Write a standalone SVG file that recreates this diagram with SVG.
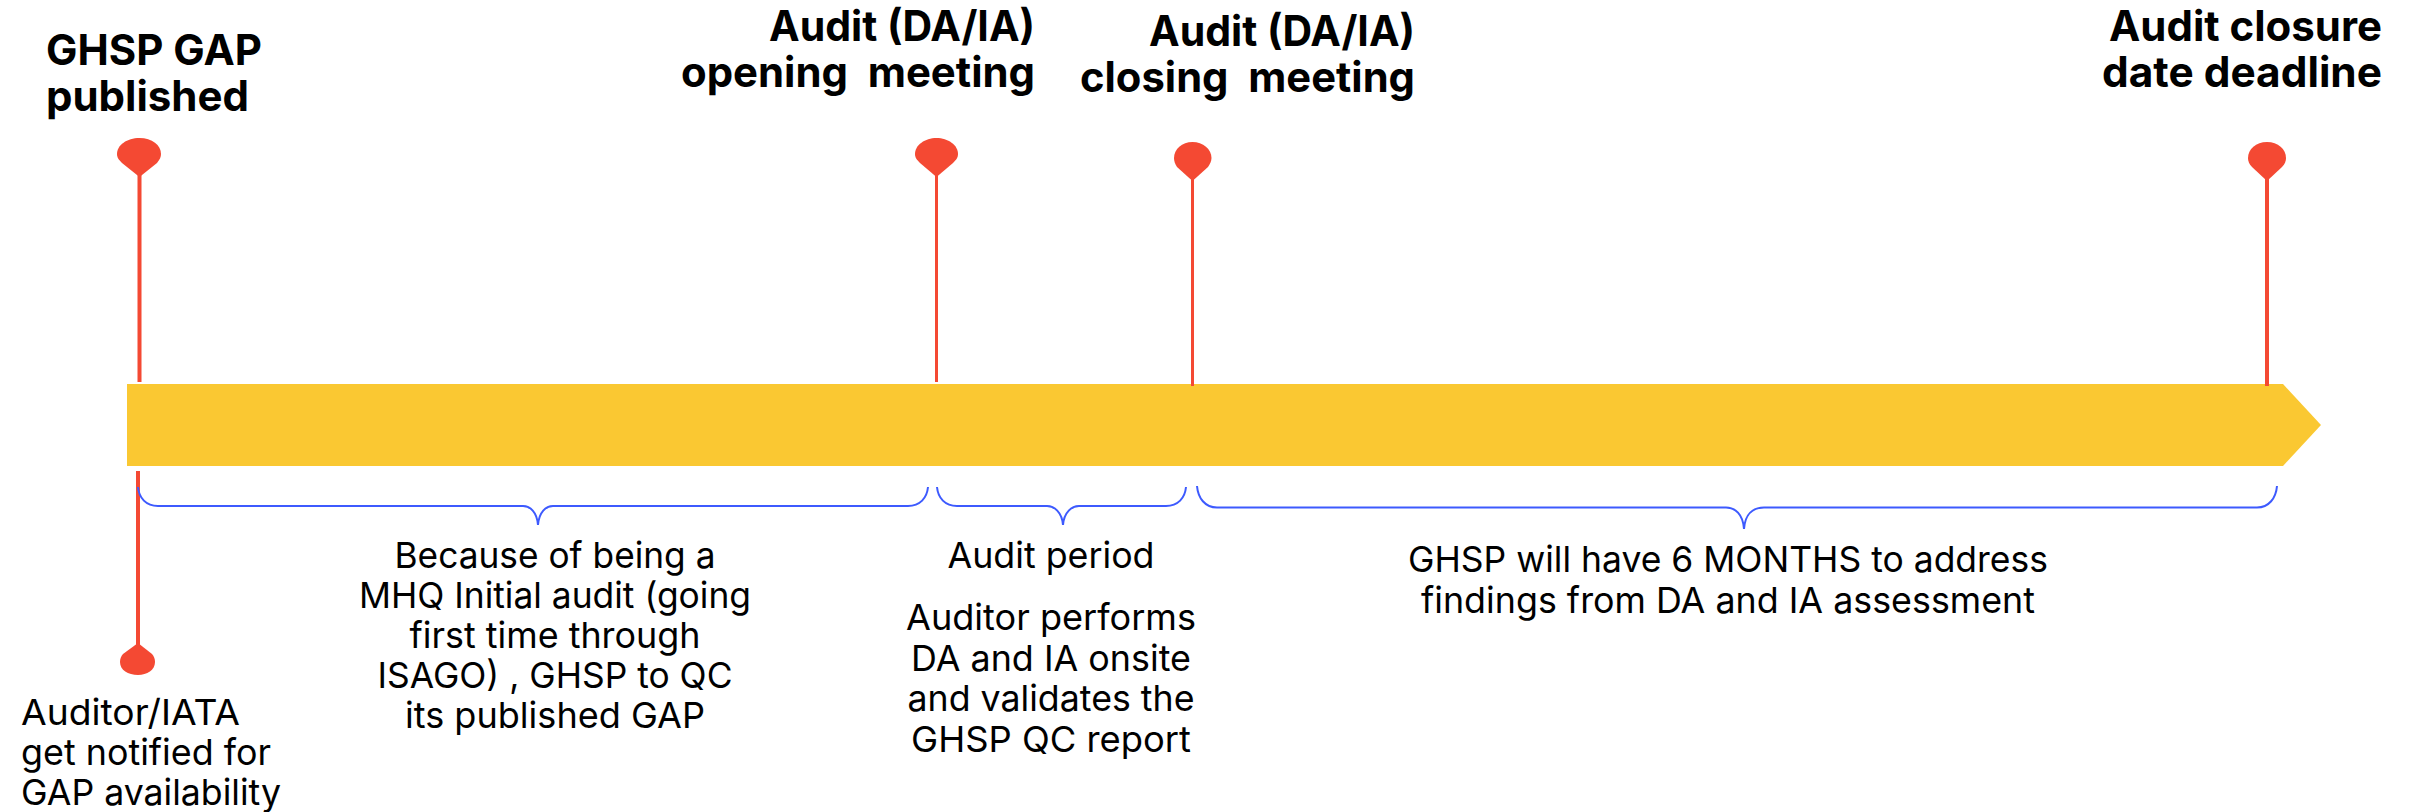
<svg xmlns="http://www.w3.org/2000/svg" width="2412" height="812" viewBox="0 0 2412 812">
<style>
text{font-family:Inter,"Liberation Sans",sans-serif;fill:#000}
.h{font-size:42px;font-weight:700;text-anchor:end}
.hl{font-size:42px;font-weight:700;text-anchor:start}
.b{font-size:36px;text-anchor:middle}
.bl{font-size:36px;text-anchor:start}
.pin{fill:#f44933}
.stem{stroke:#f44933;fill:none}
.brace{stroke:#3d5afe;stroke-width:2;fill:none}
</style>
<rect width="2412" height="812" fill="#fff"/>
<g id="timeline-bar"><path d="M127 384H2283L2321 425L2283 466H127Z" fill="#fac832"/></g>
<g id="connectors">
<path class="stem" stroke-width="4" d="M139.500 175V382"/>
<path class="stem" stroke-width="3" d="M936.500 175V382"/>
<path class="stem" stroke-width="3" d="M1192.500 179V386"/>
<path class="stem" stroke-width="4" d="M2267 179V386"/>
<path class="stem" stroke-width="4" d="M138 471V645"/>
<path class="brace" d="M138 487C139 498 146 506 158 506H523C530 506 537 512 538 525C539 512 546 506 553 506H908C920 506 927 498 928 487"/>
<path class="brace" d="M937 487C938 498 945 506 957 506H1047C1054 506 1062 512 1063 525C1064 512 1072 506 1079 506H1166C1178 506 1185 498 1186 487"/>
<path class="brace" d="M1197 486C1198 498 1205 507.500 1217 507.500H1726C1735 507.500 1743 514 1744 529C1745 514 1753 507.500 1764 507.500H2257C2269 507.500 2276 498 2277 486"/>
</g>
<g id="pin-published"><path class="pin" d="M139.500 177L122 163C118 159 117 157 117 154C117 145 127 138 139.500 138C152 138 161 145 161 154C161 157 160 159 157 163Z"/>
<text class="hl" x="46" y="65" textLength="216" lengthAdjust="spacingAndGlyphs">GHSP GAP</text><text class="hl" x="46" y="111" textLength="203" lengthAdjust="spacingAndGlyphs">published</text></g>
<g id="pin-opening"><path class="pin" d="M936.500 177L920 163C916 159 915 157 915 154C915 145 925 138 936.500 138C948 138 958 145 958 154C958 157 957 159 953 163Z"/>
<text class="h" x="1035" y="41" textLength="266" lengthAdjust="spacingAndGlyphs">Audit (DA/IA)</text><text class="h" x="1035" y="87" xml:space="preserve" textLength="354" lengthAdjust="spacingAndGlyphs">opening  meeting</text></g>
<g id="pin-closing"><path class="pin" d="M1192.500 181L1177 167C1175 164 1174 161 1174 158C1174 149 1182 142 1192.500 142C1203 142 1211.500 149 1211.500 158C1211.500 161 1210 164 1208 167Z"/>
<text class="h" x="1415" y="46" textLength="266" lengthAdjust="spacingAndGlyphs">Audit (DA/IA)</text><text class="h" x="1415" y="92" xml:space="preserve" textLength="335" lengthAdjust="spacingAndGlyphs">closing  meeting</text></g>
<g id="pin-deadline"><path class="pin" d="M2267 181L2252 167C2249 164 2248 161 2248 158C2248 149 2256 142 2267 142C2278 142 2286 149 2286 158C2286 161 2285 164 2282 167Z"/>
<text class="h" x="2382" y="41" textLength="273" lengthAdjust="spacingAndGlyphs">Audit closure</text><text class="h" x="2382" y="87" textLength="280" lengthAdjust="spacingAndGlyphs">date deadline</text></g>
<g id="pin-notified"><path class="pin" d="M138 643L123 654C121 656 120 659 120 662C120 670 128 675 138 675C147 675 155 670 155 662C155 659 154 656 152 654Z"/>
<text class="bl" x="21" y="725" textLength="219" lengthAdjust="spacingAndGlyphs">Auditor/IATA</text><text class="bl" x="21" y="765" textLength="250" lengthAdjust="spacingAndGlyphs">get notified for</text><text class="bl" x="21" y="805" textLength="260" lengthAdjust="spacingAndGlyphs">GAP availability</text></g>
<g id="label-initial">
<text class="b" x="555" y="568" textLength="321" lengthAdjust="spacingAndGlyphs">Because of being a</text><text class="b" x="555" y="608" textLength="392" lengthAdjust="spacingAndGlyphs">MHQ Initial audit (going</text><text class="b" x="555" y="648" textLength="291" lengthAdjust="spacingAndGlyphs">first time through</text><text class="b" x="555" y="688" textLength="355" lengthAdjust="spacingAndGlyphs">ISAGO) , GHSP to QC</text><text class="b" x="555" y="728" textLength="300" lengthAdjust="spacingAndGlyphs">its published GAP</text></g>
<g id="label-period">
<text class="b" x="1051" y="568" textLength="207" lengthAdjust="spacingAndGlyphs">Audit period</text><text class="b" x="1051" y="630" textLength="290" lengthAdjust="spacingAndGlyphs">Auditor performs</text><text class="b" x="1051" y="671" textLength="280" lengthAdjust="spacingAndGlyphs">DA and IA onsite</text><text class="b" x="1051" y="711" textLength="287" lengthAdjust="spacingAndGlyphs">and validates the</text><text class="b" x="1051" y="752" textLength="280" lengthAdjust="spacingAndGlyphs">GHSP QC report</text></g>
<g id="label-months">
<text class="b" x="1728" y="572" textLength="640" lengthAdjust="spacingAndGlyphs">GHSP will have 6 MONTHS to address</text><text class="b" x="1728" y="613" textLength="614" lengthAdjust="spacingAndGlyphs">findings from DA and IA assessment</text></g>
</svg>
